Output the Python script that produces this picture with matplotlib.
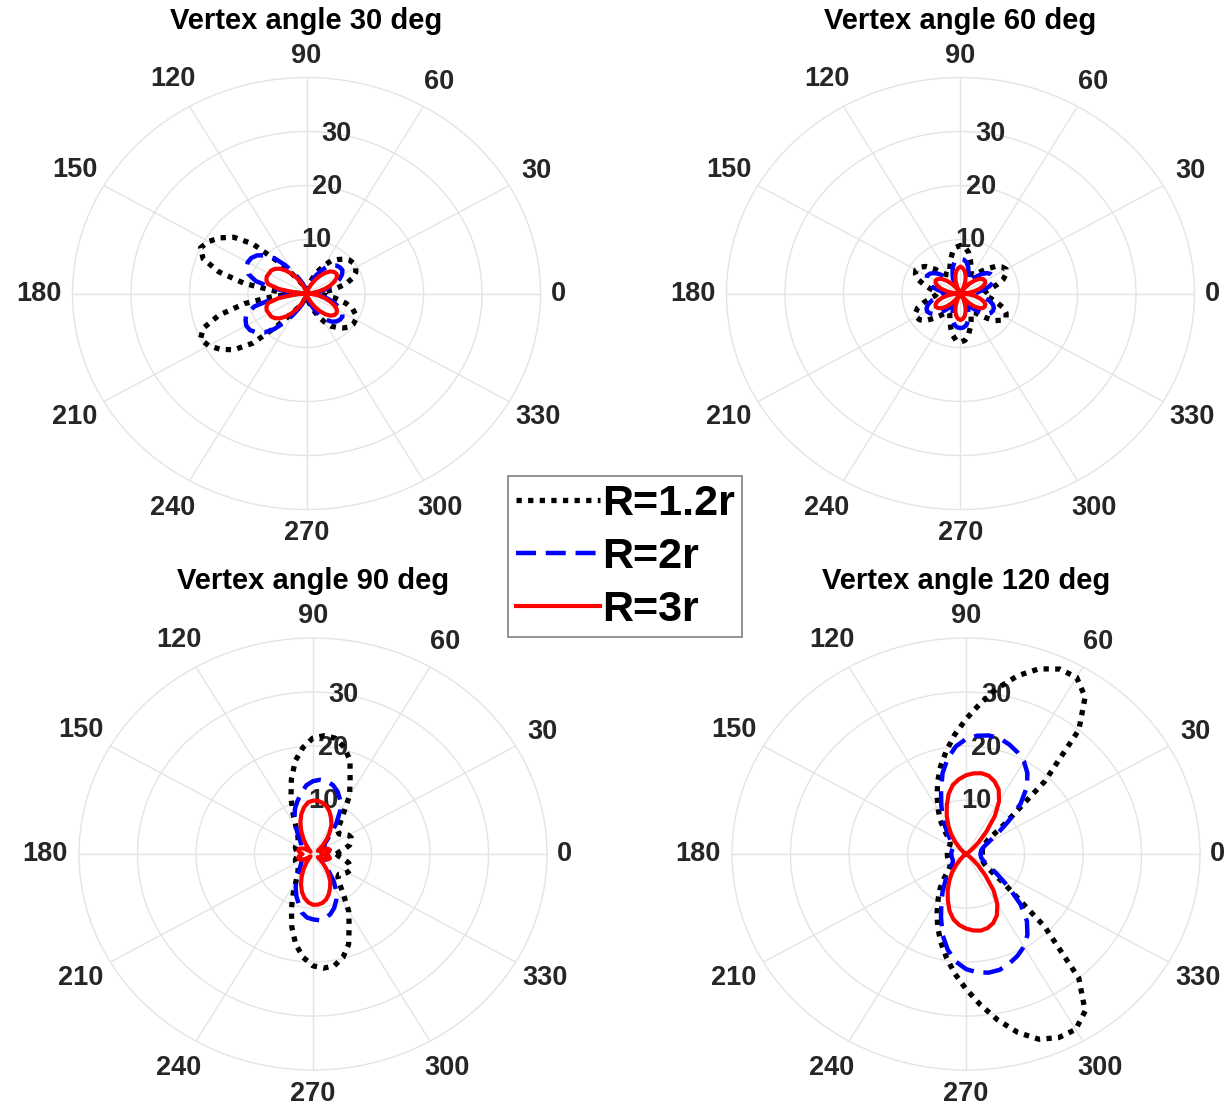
import numpy as np
import matplotlib
matplotlib.use('Agg')
import matplotlib.pyplot as plt

plt.rcParams['font.family'] = ['Liberation Sans', 'DejaVu Sans']
plt.rcParams['font.weight'] = 'bold'

# angle grid of the patterns (deg)
theta_deg = np.arange(0, 360, 5)

titles = ['Vertex angle 30 deg', 'Vertex angle 60 deg',
          'Vertex angle 90 deg', 'Vertex angle 120 deg']
series_labels = ['R=1.2r', 'R=2r', 'R=3r']

# ---- vertex angle 30 deg ----
v30_r12 = [1.5, 3.0, 5.0, 7.0, 8.4, 9.3, 9.7, 9.8, 9.6, 9.0, 8.2, 7.4, 6.0, 4.5, 3.0, 1.8, 1.0, 0.6,
           0.5, 0.6, 0.8, 1.1, 1.6, 2.2, 3.2, 4.8, 8.0, 13.0, 16.2, 18.0, 19.3, 20.0, 18.8, 15.5, 10.8, 5.5,
           1.0, 5.5, 10.8, 15.5, 18.8, 20.0, 19.3, 18.0, 16.2, 13.0, 8.0, 4.8, 3.2, 2.2, 1.6, 1.1, 0.8, 0.6,
           0.5, 0.6, 1.0, 1.8, 3.0, 4.5, 6.0, 7.4, 8.2, 9.0, 9.6, 9.8, 9.7, 9.3, 8.4, 7.0, 5.0, 3.0]
v30_r2 = [1.0, 1.5, 2.5, 3.8, 5.0, 6.2, 7.0, 7.5, 7.5, 7.3, 6.8, 6.0, 4.8, 3.5, 2.2, 1.3, 0.8, 0.5,
          0.5, 0.6, 0.9, 1.3, 2.0, 3.0, 4.5, 6.5, 8.5, 10.0, 11.0, 11.5, 11.6, 11.3, 10.6, 9.0, 6.0, 3.0,
          1.0, 3.0, 6.0, 9.2, 10.9, 11.5, 11.9, 11.8, 11.2, 10.2, 8.6, 6.5, 4.5, 3.0, 2.0, 1.3, 0.9, 0.6,
          0.5, 0.5, 0.8, 1.3, 2.2, 3.5, 4.8, 6.0, 6.8, 7.3, 7.5, 7.5, 7.0, 6.2, 5.0, 3.8, 2.5, 1.5]
v30_r3 = [0.3, 1.0, 2.0, 3.2, 4.3, 5.3, 6.0, 6.3, 6.2, 5.8, 5.0, 4.0, 2.9, 1.8, 0.9, 0.4, 0.2, 0.2,
          0.2, 0.2, 0.3, 0.6, 1.3, 2.2, 3.3, 4.5, 5.6, 6.5, 7.1, 7.4, 7.4, 7.5, 7.3, 6.8, 4.8, 1.8,
          0.3, 1.8, 4.8, 6.8, 7.3, 7.5, 7.4, 7.4, 7.1, 6.5, 5.6, 4.5, 3.3, 2.2, 1.3, 0.6, 0.3, 0.2,
          0.2, 0.2, 0.2, 0.4, 0.9, 1.8, 2.9, 4.0, 5.0, 5.8, 6.2, 6.3, 6.0, 5.3, 4.3, 3.2, 2.0, 1.0]

# ---- vertex angle 60 deg ----
v60_r12 = [4.0, 4.3, 5.3, 6.5, 7.8, 8.6, 9.0, 8.6, 7.8, 6.5, 5.3, 4.3, 4.0, 4.3, 5.3, 6.5, 7.8, 8.6,
           8.9, 8.6, 7.8, 6.5, 5.3, 4.3, 4.0, 4.3, 5.3, 6.5, 7.8, 8.5, 8.8, 8.5, 7.8, 6.5, 5.3, 4.3,
           4.0, 4.3, 5.3, 6.5, 7.8, 8.5, 8.7, 8.5, 7.8, 6.5, 5.3, 4.3, 4.0, 4.3, 5.3, 6.5, 7.8, 8.7,
           9.0, 8.7, 7.8, 6.5, 5.3, 4.3, 4.0, 4.3, 5.3, 6.5, 7.8, 8.6, 9.0, 8.6, 7.8, 6.5, 5.3, 4.3]
v60_r2 = [2.6, 3.0, 4.0, 5.1, 5.9, 6.3, 6.4, 6.3, 5.9, 5.1, 4.0, 3.0, 2.6, 3.0, 4.0, 5.1, 5.9, 6.3,
          6.4, 6.3, 5.9, 5.1, 4.0, 3.0, 2.6, 3.0, 4.0, 5.1, 5.9, 6.4, 6.6, 6.4, 5.9, 5.1, 4.0, 3.0,
          2.6, 3.0, 4.0, 5.1, 5.9, 6.4, 6.6, 6.4, 5.9, 5.1, 4.0, 3.0, 2.6, 3.0, 4.0, 5.1, 5.9, 6.3,
          6.4, 6.3, 5.9, 5.1, 4.0, 3.0, 2.6, 3.0, 4.0, 5.1, 5.9, 6.3, 6.4, 6.3, 5.9, 5.1, 4.0, 3.0]
v60_r3 = [0.2, 1.3, 2.4, 3.4, 4.2, 4.7, 4.8, 4.7, 4.2, 3.4, 2.4, 1.3, 0.2, 1.3, 2.4, 3.4, 4.2, 4.7,
          5.0, 4.7, 4.2, 3.4, 2.4, 1.3, 0.2, 1.3, 2.4, 3.4, 4.2, 4.7, 4.9, 4.7, 4.2, 3.4, 2.4, 1.3,
          0.2, 1.3, 2.4, 3.4, 4.2, 4.7, 4.9, 4.7, 4.2, 3.4, 2.4, 1.3, 0.2, 1.3, 2.4, 3.4, 4.2, 4.7,
          4.9, 4.7, 4.2, 3.4, 2.4, 1.3, 0.2, 1.3, 2.4, 3.4, 4.2, 4.7, 4.8, 4.7, 4.2, 3.4, 2.4, 1.3]

# ---- vertex angle 90 deg ----
v90_r12 = [4.0, 4.5, 5.5, 6.5, 7.0, 7.2, 7.0, 6.3, 5.8, 6.0, 7.0, 9.0, 12.5, 15.0, 18.5, 20.5, 21.8, 22.0,
           21.5, 19.8, 17.5, 14.3, 11.0, 8.0, 5.8, 4.6, 4.0, 3.6, 3.4, 3.3, 3.3, 3.3, 3.2, 3.0, 2.8, 2.7,
           2.7, 2.7, 2.8, 3.0, 3.2, 3.3, 3.3, 3.3, 3.4, 3.6, 4.0, 4.6, 5.8, 8.0, 10.8, 14.0, 17.0, 19.2,
           20.7, 21.2, 21.0, 19.8, 17.8, 14.6, 12.2, 9.0, 7.0, 6.0, 5.8, 6.3, 6.8, 7.0, 6.8, 6.3, 5.3, 4.4]
v90_r2 = [2.5, 2.5, 2.5, 2.5, 2.5, 2.4, 2.3, 2.3, 2.5, 3.0, 4.5, 7.0, 9.3, 11.0, 12.3, 13.2, 13.7, 13.8,
          13.5, 12.8, 11.5, 10.2, 9.0, 7.5, 6.0, 4.5, 3.5, 3.0, 2.6, 2.4, 2.3, 2.3, 2.3, 2.3, 2.3, 2.3,
          2.3, 2.3, 2.3, 2.3, 2.3, 2.3, 2.3, 2.4, 2.6, 3.0, 3.5, 4.5, 5.8, 7.0, 8.3, 9.5, 11.0, 11.8,
          12.1, 12.3, 12.1, 11.5, 10.6, 9.4, 8.0, 6.2, 4.2, 3.0, 2.5, 2.3, 2.3, 2.4, 2.5, 2.5, 2.5, 2.5]
v90_r3 = [1.5, 2.3, 2.8, 3.0, 2.8, 2.3, 1.5, 1.0, 1.5, 2.5, 3.8, 5.0, 6.3, 7.3, 8.3, 9.1, 9.6, 9.9,
          9.9, 9.6, 8.8, 7.7, 6.3, 4.8, 3.3, 2.0, 1.0, 0.6, 1.0, 1.6, 2.1, 2.4, 2.6, 2.6, 2.4, 2.1,
          1.8, 2.1, 2.4, 2.6, 2.6, 2.4, 2.1, 1.6, 1.0, 0.6, 1.0, 2.0, 3.2, 4.6, 6.0, 7.3, 8.3, 9.0,
          9.4, 9.4, 9.2, 8.7, 7.9, 6.9, 5.9, 4.7, 3.5, 2.4, 1.5, 1.0, 1.5, 2.3, 2.8, 3.0, 2.8, 2.3]

# ---- vertex angle 120 deg ----
v120_r12 = [2.8, 2.8, 2.8, 2.9, 3.0, 3.2, 3.6, 4.6, 8.5, 19.0, 30.0, 35.5, 37.8, 37.8, 36.5, 34.2, 31.2, 28.0,
            25.0, 22.2, 19.4, 16.8, 14.2, 11.7, 9.5, 7.7, 5.8, 4.3, 3.6, 3.3, 3.2, 3.2, 3.2, 3.2, 3.2, 3.2,
            3.2, 3.2, 3.2, 3.2, 3.2, 3.2, 3.2, 3.3, 3.6, 4.3, 5.8, 7.7, 9.5, 11.7, 14.2, 16.8, 19.4, 22.2,
            25.0, 28.0, 31.2, 34.2, 36.5, 37.5, 37.5, 35.5, 30.0, 19.0, 8.5, 4.6, 3.6, 3.2, 3.0, 2.9, 2.8, 2.8]
v120_r2 = [2.5, 2.5, 2.6, 2.7, 3.0, 3.5, 4.5, 6.5, 9.5, 13.2, 16.2, 18.3, 19.8, 20.8, 21.6, 22.2, 22.3, 22.0,
           21.3, 20.0, 18.0, 15.5, 12.5, 10.0, 8.0, 6.2, 4.8, 3.8, 3.2, 2.8, 2.6, 2.5, 2.5, 2.5, 2.5, 2.5,
           2.5, 2.5, 2.5, 2.5, 2.5, 2.5, 2.6, 2.8, 3.2, 3.8, 4.8, 6.2, 8.0, 10.0, 12.5, 15.5, 18.0, 20.0,
           21.3, 22.0, 22.3, 22.2, 21.6, 20.8, 19.8, 18.3, 16.2, 13.2, 9.5, 6.5, 4.5, 3.5, 3.0, 2.7, 2.6, 2.5]
v120_r3 = [0.2, 0.2, 0.2, 0.2, 0.2, 0.2, 0.2, 0.4, 1.2, 3.0, 5.4, 8.6, 11.3, 13.2, 14.3, 15.0, 15.2, 15.0,
           14.6, 13.9, 13.0, 11.5, 9.6, 7.8, 6.0, 4.4, 2.8, 1.4, 0.6, 0.3, 0.2, 0.2, 0.2, 0.2, 0.2, 0.2,
           0.2, 0.2, 0.2, 0.2, 0.2, 0.2, 0.2, 0.3, 0.6, 1.3, 2.7, 4.2, 5.7, 7.4, 9.1, 10.9, 12.3, 13.2,
           13.8, 14.2, 14.4, 14.2, 13.6, 12.5, 10.7, 8.2, 5.1, 2.9, 1.1, 0.4, 0.2, 0.2, 0.2, 0.2, 0.2, 0.2]

panels = [
    (v30_r12, v30_r2, v30_r3),
    (v60_r12, v60_r2, v60_r3),
    (v90_r12, v90_r2, v90_r3),
    (v120_r12, v120_r2, v120_r3),
]

styles = [
    dict(color='black', lw=3.8, dashes=(1, 1.2)),
    dict(color='#0000ff', lw=3.2, dashes=(4.5, 2.2)),
    dict(color='#ff0000', lw=3.0),
]

# axes boxes in figure fraction (the original is stretched a bit horizontally)
positions = [
    [0.0591, 0.5393, 0.3814, 0.3906],
    [0.5921, 0.5393, 0.3814, 0.3906],
    [0.0644, 0.0325, 0.3814, 0.3906],
    [0.5966, 0.0325, 0.3814, 0.3906],
]

grid_col = '#e4e4e4'
txt_col = '#262626'

fig = plt.figure(figsize=(12.27, 11.06), dpi=100)

handles = []
for k in range(4):
    ax = fig.add_axes(positions[k], projection='polar')
    ax.set_aspect('auto')
    ax.set_ylim(0, 40)
    ax.set_xticks(np.deg2rad(np.arange(0, 360, 30)))
    ax.set_xticklabels([])
    ax.set_yticks([10, 20, 30])
    ax.set_yticklabels([])
    ax.tick_params(length=0)
    ax.grid(True, color=grid_col, lw=1.0)
    ax.spines['polar'].set_color(grid_col)
    ax.spines['polar'].set_linewidth(1.0)

    th = np.deg2rad(np.append(theta_deg, theta_deg[0]))
    for j, r in enumerate(panels[k]):
        rr = np.append(r, r[0])
        ln, = ax.plot(th, rr, label=series_labels[j], zorder=3 + j, **styles[j])
        if k == 0:
            handles.append(ln)

    # angle labels, MATLAB style
    for a in range(0, 360, 30):
        lab = str(a)
        if a == 0:
            rl = 43.0
        elif a == 90:
            rl = 44.0
        elif a == 270:
            rl = 44.4
        else:
            rl = 45.3 if len(lab) == 2 else 45.8
        ax.text(np.deg2rad(a), rl, lab, ha='center', va='center', fontsize=19.5,
                fontweight='bold', color=txt_col, clip_on=False)
    # radius labels along 80 deg
    for rt in [10, 20, 30]:
        ax.text(np.deg2rad(80), rt, str(rt), ha='center', va='center', fontsize=19.5,
                fontweight='bold', color=txt_col, zorder=2)

    ax.set_title(titles[k], y=1.094, fontsize=21, fontweight='bold', color='black')

leg = fig.legend(handles, series_labels, loc='upper left',
                 bbox_to_anchor=(508 / 1227, 1 - 476 / 1106), borderaxespad=0,
                 fontsize=31, frameon=True, fancybox=False, framealpha=1,
                 edgecolor='#808080', borderpad=0.18, handlelength=1.95,
                 handletextpad=0.05, labelspacing=0.3)
leg.get_frame().set_linewidth(1.2)
for t in leg.get_texts():
    t.set_fontweight('bold')

fig.savefig('out.png', dpi=100)
